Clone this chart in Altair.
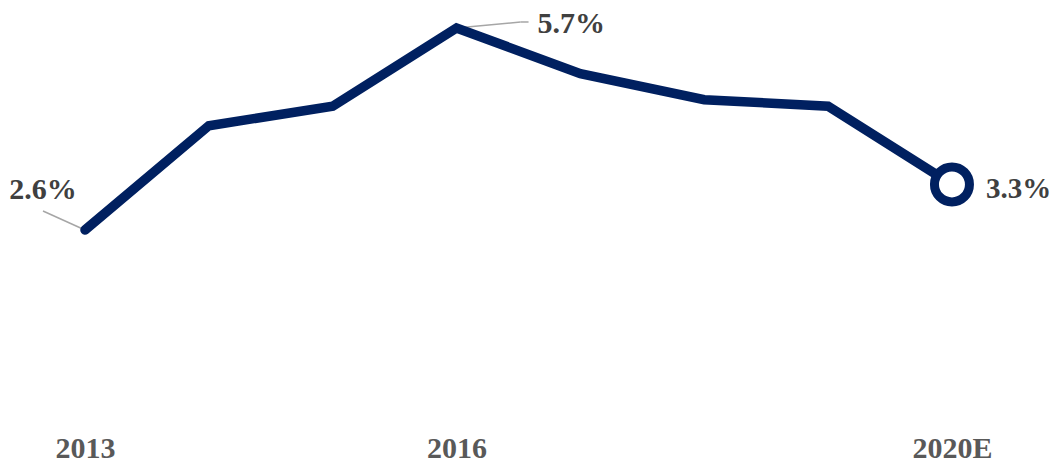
import altair as alt
import pandas as pd

# ---- data ----
years = ["2013", "2014", "2015", "2016", "2017", "2018", "2019", "2020E"]
growth = [2.6, 4.2, 4.5, 5.7, 5.0, 4.6, 4.5, 3.3]
label_years = ["2013", "2016", "2020E"]

NAVY = "#002060"
FONT = "Liberation Serif"

df = pd.DataFrame({"i": list(range(len(years))), "year": years, "v": growth})
df["lbl"] = [f"{v:.1f}%" for v in growth]

W, H = 1034, 410
x_dom = [-0.6217, 7.727]
y_dom = [-0.408, 5.884]
px_x = W / (x_dom[1] - x_dom[0])
px_y = H / (y_dom[1] - y_dom[0])

label_test = " : ".join(
    f"datum.value == {years.index(y)} ? '{y}'" for y in label_years) + " : ''"

xs = alt.Scale(domain=x_dom, nice=False, zero=False)
ys = alt.Scale(domain=y_dom, nice=False, zero=False)

x_ax = alt.Axis(values=[years.index(y) for y in label_years], labelExpr=label_test,
                title=None, domain=False, ticks=False, grid=False,
                labelFont=FONT, labelFontSize=30, labelFontWeight="bold",
                labelColor="#595959", labelBaseline="alphabetic", labelPadding=31,
                labelFlush=False, labelOverlap=False)
x = alt.X("i:Q", scale=xs, axis=x_ax)
y = alt.Y("v:Q", scale=ys, axis=None)

base = alt.Chart(df)

line = base.mark_line(color=NAVY, strokeWidth=9.5, strokeCap="round", strokeJoin="miter").encode(x=x, y=y)

end_pt = base.transform_filter(alt.datum.year == "2020E").mark_point(
    shape="circle", size=1225, fill="white", fillOpacity=1, stroke=NAVY,
    strokeWidth=9, opacity=1).encode(x=x, y=y)

# leader lines (annotation offsets in pixels converted to data units)
lead = pd.DataFrame({
    "i": [0, 3, 3 + 64 / px_x],
    "v": [2.6, 5.7, 5.7 + 6 / px_y],
    "i2": [0 - 42 / px_x, 3 + 64 / px_x, 3 + 72 / px_x],
    "v2": [2.6 + 19 / px_y, 5.7 + 6 / px_y, 5.7 + 6 / px_y],
})
leaders = alt.Chart(lead).mark_rule(color="#a6a6a6", strokeWidth=1.5).encode(
    x=x, y=y, x2="i2:Q", y2="v2:Q")

def lab(year, dx, dy, align, size=30):
    return base.transform_filter(alt.datum.year == year).mark_text(
        font=FONT, fontSize=size, fontWeight="bold", color="#404040",
        align=align, baseline="alphabetic", dx=dx, dy=dy).encode(x=x, y=y, text="lbl:N")

chart = alt.layer(
    leaders, line, end_pt,
    lab("2013", -42, -31, "center"),
    lab("2016", 81, 5, "left"),
    lab("2020E", 34, 14, "left", 29),
).properties(
    width=W, height=H,
    autosize=alt.AutoSizeParams(type="none"),
    padding={"left": 0, "top": 8, "right": 8, "bottom": 38},
).configure_view(strokeWidth=0)

chart.save("out.html", embed_options={"renderer": "svg", "actions": False})
